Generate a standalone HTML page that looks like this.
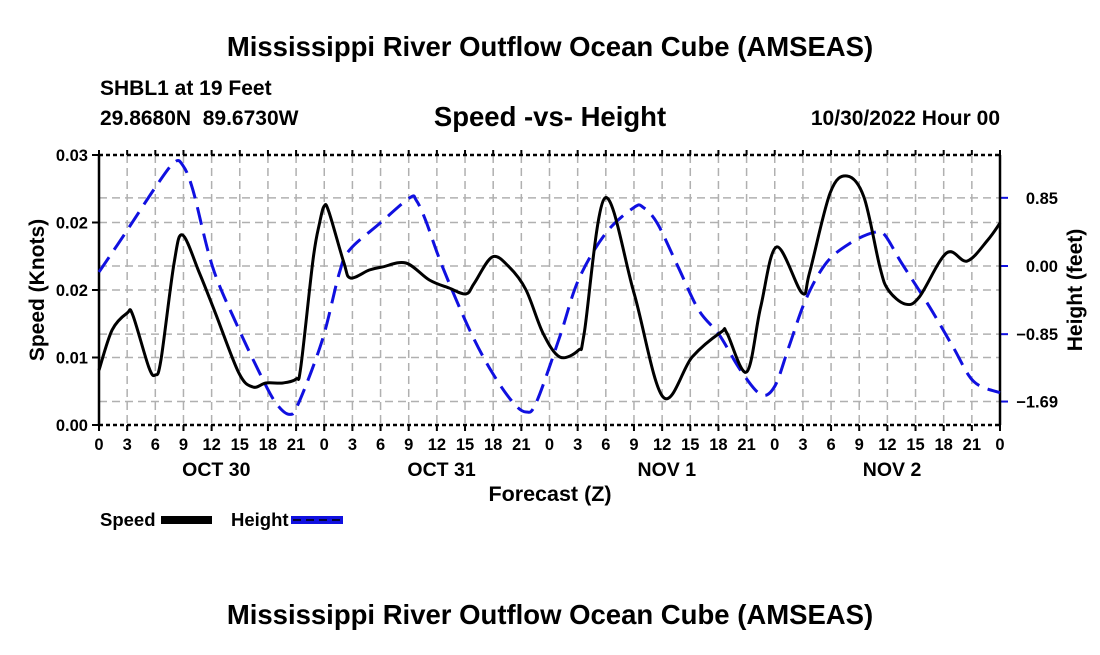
<!DOCTYPE html>
<html><head><meta charset="utf-8">
<style>
html,body{margin:0;padding:0;background:#fff;}
svg text{font-family:"Liberation Sans",Arial,sans-serif;font-weight:bold;fill:#000;}
</style></head>
<body>
<svg id="chart" width="1100" height="650" viewBox="0 0 1100 650" xmlns="http://www.w3.org/2000/svg">
<rect width="1100" height="650" fill="#fff"/>
<text x="550" y="56" font-size="27.5" text-anchor="middle">Mississippi River Outflow Ocean Cube (AMSEAS)</text>
<text x="100" y="95" font-size="21">SHBL1 at 19 Feet</text>
<text x="100" y="125" font-size="21" xml:space="preserve">29.8680N  89.6730W</text>
<text x="550" y="126" font-size="27.5" text-anchor="middle">Speed -vs- Height</text>
<text x="1000" y="125" font-size="21" text-anchor="end">10/30/2022 Hour 00</text>
<g id="grid"></g>
<g id="axes"></g>
<g id="series"></g>
<text transform="translate(44,290) rotate(-90)" font-size="21" text-anchor="middle">Speed (Knots)</text>
<text transform="translate(1082,290) rotate(-90)" font-size="21" text-anchor="middle">Height (feet)</text>
<text x="550" y="501" font-size="21.5" text-anchor="middle">Forecast (Z)</text>
<g>
<text x="100" y="526" font-size="18.5">Speed</text>
<rect x="161" y="516" width="51" height="8" fill="#000"/>
<text x="231" y="526" font-size="18.5">Height</text>
<rect x="291" y="516" width="52" height="8" fill="#1010e0"/>
<line x1="293" y1="520" x2="342" y2="520" stroke="#000" stroke-width="1.5" stroke-dasharray="8 5"/>
</g>
<text x="550" y="624" font-size="27.5" text-anchor="middle">Mississippi River Outflow Ocean Cube (AMSEAS)</text>
</svg>
<script>
const speedHours=[0,1.4,3,3.6,5.3,6,6.6,8,8.9,10.7,12.4,14.9,16.4,17.8,19.6,21,21.5,22.8,23.5,24,24.5,26.1,26.8,28.8,30.2,32.7,35.2,37.3,39.1,40,41.9,43.7,45.5,47.3,49.1,51.1,51.7,53.9,57,60.1,63.2,66.3,66.9,69,70.5,72.2,74.9,75.7,77.9,79.7,81.5,83.2,84.1,85.9,87.4,90.3,92.5,94.7,96];
const speedValues=[.0061,.01056,.01244,.01222,.00644,.00556,.00722,.018,.02111,.01689,.01244,.00578,.00422,.00467,.00467,.00511,.00644,.01833,.02244,.02433,.02367,.018,.01633,.01722,.01756,.018,.01611,.01522,.01456,.01578,.01867,.01756,.015,.01022,.00756,.00833,.01022,.02522,.01467,.00311,.00756,.01033,.01022,.00589,.01311,.01978,.01467,.01689,.02578,.02767,.02533,.01756,.015,.01344,.01422,.01911,.01822,.02056,.02244];
const heightHours=[0,2.8,6,8,8.9,10,12.1,14.6,17.1,18.8,20.3,21.3,23.8,25.6,26.7,29.9,33.1,33.8,34.8,36.6,39.5,41.9,44.1,45.5,46.6,49.1,51.1,54,57,58,59.5,61.7,63.9,66.1,68.3,70.5,72,73.5,75.3,77.5,80.1,82.6,83.7,85.5,88.5,91,93.2,96];
const heightValues=[-0.075,0.41,0.98,1.29,1.26,0.95,-0.01,-0.71,-1.33,-1.70,-1.85,-1.70,-0.92,-0.09,0.20,0.53,0.85,0.82,0.57,-0.01,-0.80,-1.33,-1.70,-1.82,-1.70,-0.88,-0.17,0.41,0.73,0.73,0.53,-0.01,-0.55,-0.86,-1.29,-1.60,-1.50,-1.01,-0.42,0.04,0.29,0.42,0.39,0.04,-0.51,-1.01,-1.44,-1.58];
const leftTicks=[0,0.0075,0.015,0.0225,0.03];
const leftTickLabels=["0.00","0.01","0.02","0.02","0.03"];
const rightTicks=[0.85,0,-0.85,-1.69];
const rightTickLabels=["0.85","0.00","\u22120.85","\u22121.69"];
const hourLabels=["0","3","6","9","12","15","18","21"];
const dayLabels=["OCT 30","OCT 31","NOV 1","NOV 2"];

const X0=99,X1=1000,YT=155,YB=425;
const xs=h=>X0+(X1-X0)*h/96;
const ysL=v=>YB-(YB-YT)*v/0.03;
const ysR=v=>266-80.2*v;
const NS="http://www.w3.org/2000/svg";
function mk(tag,attrs,parent){const e=document.createElementNS(NS,tag);for(const k in attrs)e.setAttribute(k,attrs[k]);parent.appendChild(e);return e;}
const grid=document.getElementById('grid'),axes=document.getElementById('axes'),series=document.getElementById('series');
for(let h=3;h<96;h+=3){const l=mk('line',{x1:xs(h),x2:xs(h),y1:YT,y2:YB,stroke:'#b0b0b0','stroke-width':1.5,'stroke-dasharray':'8 5'},grid);

}
leftTicks.forEach((v,i)=>{if(i>0&&i<leftTicks.length-1){const l=mk('line',{x1:X0,x2:X1,y1:ysL(v),y2:ysL(v),stroke:'#b0b0b0','stroke-width':1.5,'stroke-dasharray':'8 5'},grid);

}
const t=mk('text',{x:88,y:ysL(v)+6,'font-size':16.5,'text-anchor':'end'},axes);t.textContent=leftTickLabels[i];


mk('line',{x1:X0-7,x2:X0,y1:ysL(v),y2:ysL(v),stroke:'#000','stroke-width':2},axes);});
rightTicks.forEach((v,i)=>{const l=mk('line',{x1:X0,x2:X1,y1:ysR(v),y2:ysR(v),stroke:'#b0b0b0','stroke-width':1.5,'stroke-dasharray':'8 5'},grid);


mk('line',{x1:X1,x2:X1+8,y1:ysR(v),y2:ysR(v),stroke:'#1010e0','stroke-width':2},axes);
const t=mk('text',{x:1058,y:ysR(v)+6,'font-size':16.5,'text-anchor':'end'},axes);t.textContent=rightTickLabels[i];

});
mk('line',{x1:X0,x2:X0,y1:YT,y2:YB,stroke:'#000','stroke-width':2.5},axes);
mk('line',{x1:X1,x2:X1,y1:YT,y2:YB,stroke:'#000','stroke-width':2.5},axes);
mk('line',{x1:X0,x2:X1,y1:YT,y2:YT,stroke:'#000','stroke-width':2.5,'stroke-dasharray':'4 3'},axes);
mk('line',{x1:X0,x2:X1,y1:YB,y2:YB,stroke:'#000','stroke-width':2.5,'stroke-dasharray':'4 3'},axes);
for(let h=0;h<=96;h+=3){mk('line',{x1:xs(h),x2:xs(h),y1:YB,y2:YB+6,stroke:'#000','stroke-width':2},axes);
mk('line',{x1:xs(h),x2:xs(h),y1:YT-5,y2:YT,stroke:'#000','stroke-width':2},axes);
const t=mk('text',{x:xs(h),y:450,'font-size':16.5,'text-anchor':'middle'},axes);t.textContent=h===96?'0':hourLabels[(h%24)/3];

}
dayLabels.forEach((d,i)=>{const t=mk('text',{x:xs(i*24+12.5),y:476,'font-size':19.5,'text-anchor':'middle'},axes);t.textContent=d;

});
function smooth(pts){let d=`M${pts[0][0]},${pts[0][1]}`;for(let i=0;i<pts.length-1;i++){const p0=pts[Math.max(0,i-1)],p1=pts[i],p2=pts[i+1],p3=pts[Math.min(pts.length-1,i+2)];
d+=` C${p1[0]+(p2[0]-p0[0])/6},${p1[1]+(p2[1]-p0[1])/6} ${p2[0]-(p3[0]-p1[0])/6},${p2[1]-(p3[1]-p1[1])/6} ${p2[0]},${p2[1]}`;}return d;}
const hp=mk('path',{d:smooth(heightHours.map((h,i)=>[xs(h),ysR(heightValues[i])])),fill:'none',stroke:'#1010e0','stroke-width':3,'stroke-dasharray':'18 9'},series);


const sp=mk('path',{d:smooth(speedHours.map((h,i)=>[xs(h),ysL(speedValues[i])])),fill:'none',stroke:'#000','stroke-width':3,'stroke-linejoin':'round'},series);


</script>
</body></html>
